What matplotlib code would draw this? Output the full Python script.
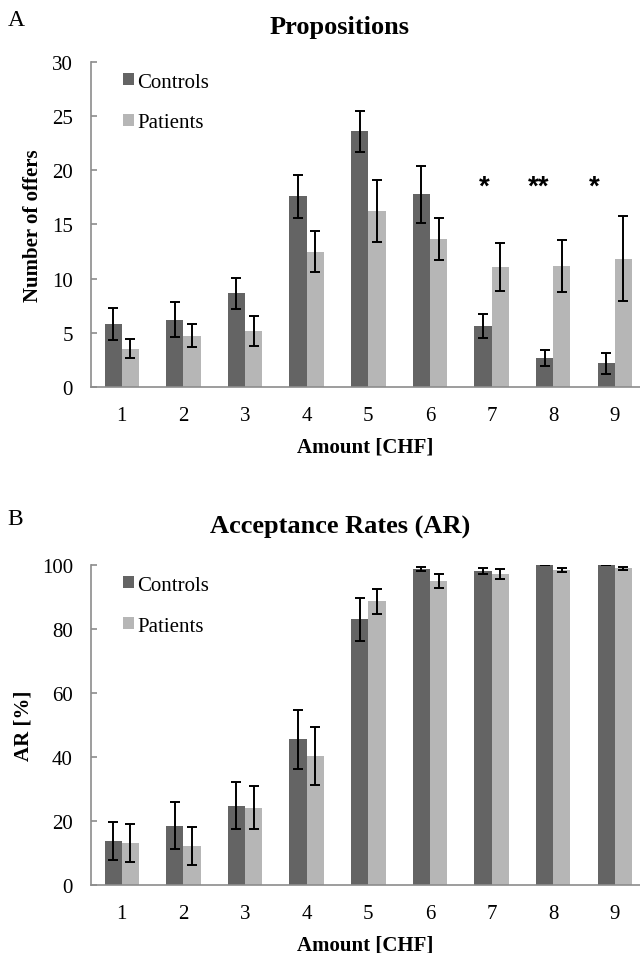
import matplotlib.pyplot as plt
import numpy as np

plt.rcParams['font.family'] = ['Liberation Serif', 'DejaVu Serif']

amounts = [1, 2, 3, 4, 5, 6, 7, 8, 9]

# Panel A: number of offers
prop_controls = [5.83, 6.2, 8.64, 17.62, 23.6, 17.81, 5.62, 2.65, 2.19]
prop_controls_err = [1.5, 1.63, 1.4, 1.98, 1.9, 2.63, 1.14, 0.75, 0.97]
prop_patients = [3.52, 4.75, 5.19, 12.47, 16.26, 13.67, 11.05, 11.2, 11.85]
prop_patients_err = [0.88, 1.1, 1.38, 1.9, 2.87, 1.95, 2.2, 2.4, 3.9]
sig_amounts = [7, 8, 9]
sig_labels = ['*', '**', '*']

# Panel B: acceptance rates
ar_controls = [13.75, 18.5, 24.8, 45.6, 83.1, 98.75, 98.2, 100, 100]
ar_controls_err = [6.0, 7.4, 7.3, 9.2, 6.7, 0.7, 1.0, 0.0, 0.0]
ar_patients = [13.1, 12.1, 24.2, 40.2, 88.6, 95.0, 97.2, 98.4, 99.0]
ar_patients_err = [6.0, 6.0, 6.8, 9.1, 4.0, 2.1, 1.7, 0.7, 0.5]

c_dark = '#646464'
c_light = '#b6b6b6'
spine_col = '#8c8c8c'
w = 0.28

fig = plt.figure(figsize=(6.4, 9.54), dpi=100)
axA = fig.add_axes([0.1422, 0.5933, 0.858, 0.3407])
axB = fig.add_axes([0.1422, 0.0713, 0.858, 0.3354])


def draw(ax, ctrl, ctrl_err, pat, pat_err, ylim, yticks, ylabel, label_x):
    x = np.array(amounts)
    ekw = dict(ecolor='black', elinewidth=1.4, capsize=3.5, capthick=1.4)
    ax.bar(x - w / 2, ctrl, w, color=c_dark, label='Controls', yerr=ctrl_err, error_kw=ekw)
    ax.bar(x + w / 2, pat, w, color=c_light, label='Patients', yerr=pat_err, error_kw=ekw)
    ax.set_xlim(0.5, 9.41)
    ax.set_ylim(*ylim)
    ax.set_yticks(yticks)
    ax.set_xticks(x)
    ax.tick_params(axis='x', length=0, labelsize=15, pad=14)
    ax.tick_params(axis='y', length=4.5, width=1.2, direction='in', color=spine_col,
                   labelsize=15, pad=13)
    for s in ['top', 'right']:
        ax.spines[s].set_visible(False)
    for s in ['left', 'bottom']:
        ax.spines[s].set_color(spine_col)
        ax.spines[s].set_linewidth(1.2)
    ax.set_xlabel('Amount [CHF]', fontsize=15, fontweight='bold', labelpad=8)
    ax.set_ylabel(ylabel, fontsize=15, fontweight='bold')
    ax.yaxis.set_label_coords(label_x, 0.5)
    ax.legend(loc='upper left', bbox_to_anchor=(0.025, 1.025), frameon=False, fontsize=15,
              handlelength=0.5, handleheight=0.5, handletextpad=0.15, labelspacing=1.05)


draw(axA, prop_controls, prop_controls_err, prop_patients, prop_patients_err,
     (0, 30), [0, 5, 10, 15, 20, 25, 30], 'Number of offers', -0.088)
draw(axB, ar_controls, ar_controls_err, ar_patients, ar_patients_err,
     (0, 100), [0, 20, 40, 60, 80, 100], 'AR [%]', -0.104)

star_shift = [-0.12, -0.24, -0.33]
for a, lab, sh in zip(sig_amounts, sig_labels, star_shift):
    axA.text(a + sh, 18.5, lab, ha='center', va='center', fontsize=20,
             fontweight='bold', fontfamily='Liberation Sans')

fig.text(0.531, 0.971, 'Propositions', ha='center', va='center', fontsize=19, fontweight='bold')
fig.text(0.531, 0.447, 'Acceptance Rates (AR)', ha='center', va='center', fontsize=19, fontweight='bold')
fig.text(0.012, 0.979, 'A', ha='left', va='center', fontsize=17)
fig.text(0.012, 0.455, 'B', ha='left', va='center', fontsize=17)

fig.savefig('out.png', dpi=100)
